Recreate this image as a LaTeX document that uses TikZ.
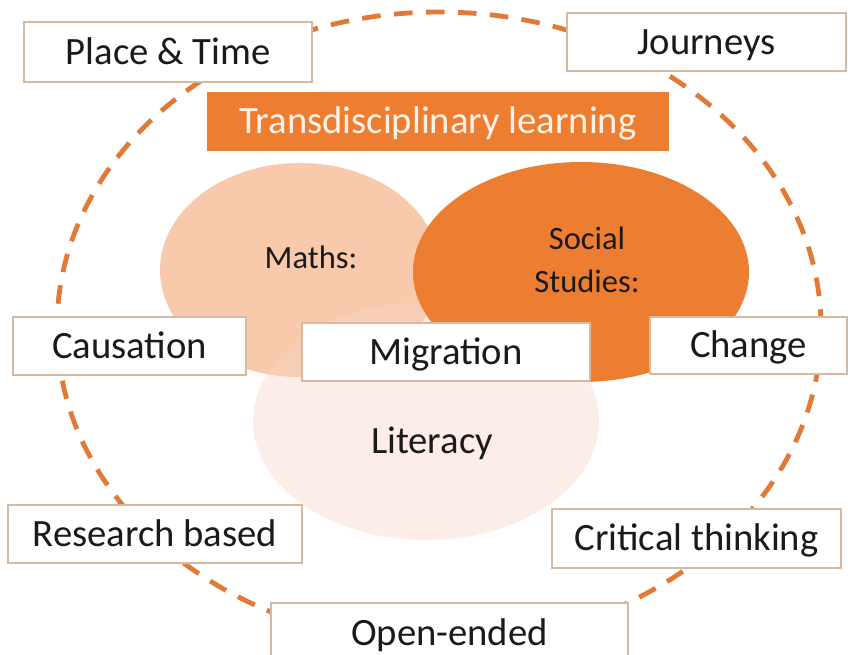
\documentclass[tikz,border=0pt]{standalone}
\usepackage{fontspec}
\setmainfont{Carlito}
\definecolor{orangeA}{HTML}{ED7D31}
\definecolor{mathsC}{HTML}{F8C9AB}
\definecolor{litC}{HTML}{F8D4C6}
\definecolor{dashC}{HTML}{E07A36}
\definecolor{boxB}{HTML}{D7B8A0}
\definecolor{creamT}{HTML}{FFF3E8}
\definecolor{txt}{HTML}{1A1A1A}
\tikzset{
  labelbox/.style={draw=boxB, line width=1.1pt, fill=white, inner sep=0pt,
    font=\fontsize{29}{35}\selectfont, text=txt, text height=18.7pt, text depth=0pt},
  topbox/.style={fill=orangeA, inner sep=0pt,
    font=\fontsize{29}{35}\selectfont, text=creamT, text height=18.7pt, text depth=0pt},
  subjtext/.style={font=\fontsize{24.4}{32.25}\selectfont, text=txt, inner sep=0pt, align=center},
  bigtext/.style={font=\fontsize{29}{35}\selectfont, text=txt, inner sep=0pt, text height=18.7pt, text depth=0pt},
  ring/.style={draw=dashC, line width=3.6pt, dash pattern=on 14pt off 10pt}
}
\begin{document}
\begin{tikzpicture}[x=0.75pt,y=-0.75pt]
\useasboundingbox (0,0) rectangle (848,655);
\fill[white] (0,0) rectangle (848,655);
% outer dashed ring
\draw[ring] (439,328) ellipse [x radius=286.5pt, y radius=237pt];
% Venn ellipses
\fill[mathsC] (300,270) ellipse [x radius=105pt, y radius=80.25pt];
\fill[litC, fill opacity=0.4] (426,421) ellipse [x radius=129.75pt, y radius=89.25pt];
\fill[orangeA] (581,272) ellipse [x radius=126pt, y radius=82.5pt];
% subject labels
\node[subjtext, text height=15.7pt, text depth=0pt] (maths) at (311,258) {Maths:};
\node[subjtext] (social) at (587,260) {Social\\Studies:};
\node[bigtext] (literacy) at (432,441.5) {Literacy};
% title
\node[topbox, minimum width=346.5pt, minimum height=44.25pt] (title) at (438,121.5) {Transdisciplinary learning};
% concept boxes
\node[labelbox, minimum width=216pt, minimum height=45pt] (place) at (168,52) {Place \& Time};
\node[labelbox, minimum width=209.25pt, minimum height=43.5pt] (journeys) at (706.5,42) {Journeys};
\node[labelbox, minimum width=174.75pt, minimum height=43.5pt] (causation) at (129.5,346) {Causation};
\node[labelbox, minimum width=216pt, minimum height=43.5pt] (migration) at (446,352) {Migration};
\node[labelbox, minimum width=147.75pt, minimum height=42.75pt] (change) at (748.5,345.5) {Change};
\node[labelbox, minimum width=220.5pt, minimum height=43.5pt] (research) at (155,534) {Research based};
\node[labelbox, minimum width=216.75pt, minimum height=44.25pt] (critical) at (696.5,538.5) {Critical thinking};
\node[labelbox, minimum width=267.75pt, minimum height=45pt] (open) at (449.5,633) {Open-ended};
\end{tikzpicture}
\end{document}
